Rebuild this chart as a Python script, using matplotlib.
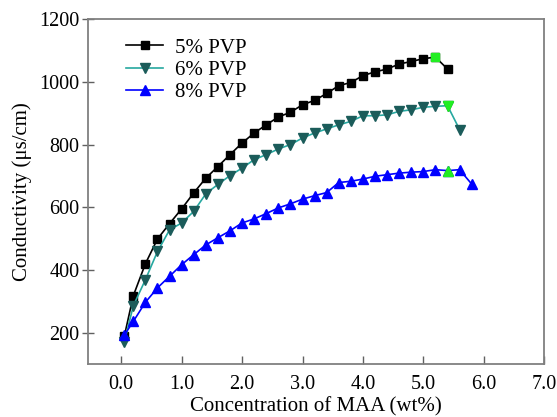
import matplotlib
matplotlib.use("Agg")
import matplotlib.pyplot as plt
import numpy as np

plt.rcParams['font.family'] = ['Liberation Serif', 'DejaVu Serif']

# data
x5 = [0.05, 0.2, 0.4, 0.6, 0.8, 1.0, 1.2, 1.4, 1.6, 1.8, 2.0, 2.2, 2.4, 2.6,
      2.8, 3.0, 3.2, 3.4, 3.6, 3.8, 4.0, 4.2, 4.4, 4.6, 4.8, 5.0, 5.2, 5.4]
y5 = [188, 318, 420, 499, 548, 595, 646, 693, 730, 768, 805, 837, 863, 888,
      903, 927, 941, 963, 988, 998, 1020, 1032, 1041, 1057, 1065, 1074, 1079, 1041]
peak5 = 26

x6 = x5 + [5.6]
y6 = [170, 286, 369, 459, 528, 550, 587, 643, 673, 701, 725, 752, 768, 786,
      800, 821, 837, 850, 863, 874, 892, 892, 895, 906, 911, 919, 922, 924, 848]
peak6 = 27

x8 = x5 + [5.6, 5.8]
y8 = [192, 236, 297, 343, 380, 417, 449, 480, 503, 525, 550, 563, 580, 598,
      611, 626, 637, 647, 679, 683, 690, 699, 704, 709, 712, 714, 720, 717, 720, 674]
peak8 = 27

labels = ['5% PVP', '6% PVP', '8% PVP']
xticks = [0.0, 1.0, 2.0, 3.0, 4.0, 5.0, 6.0, 7.0]
yticks = [200, 400, 600, 800, 1000, 1200]

fig = plt.figure(figsize=(5.57, 4.17), dpi=100)
ax = fig.add_axes([0.158, 0.127, 0.819, 0.827])

ax.plot(x5, y5, color='black', lw=1.2, marker='s', ms=5.3,
        mfc='black', mec='black', label=labels[0])
ax.plot(x6, y6, color='#26a8a0', lw=1.2, marker='v', ms=7,
        mfc='#1b5c5a', mec='#1b5c5a', label=labels[1])
ax.plot(x8, y8, color='#0000ff', lw=1.2, marker='^', ms=7,
        mfc='#0000ff', mec='#0000ff', label=labels[2])

# highlighted maxima
ax.plot(x5[peak5], y5[peak5], ls='none', marker='s', ms=5.3, color='#22ee22')
ax.plot(x6[peak6], y6[peak6], ls='none', marker='v', ms=7, color='#22ee22')
ax.plot(x8[peak8], y8[peak8], ls='none', marker='^', ms=7, color='#22ee22')

ax.set_xlim(-0.55, 7.0)
ax.set_ylim(100, 1200)
ax.set_xticks(xticks)
ax.set_xticklabels(['%.1f' % t for t in xticks])
ax.set_yticks(yticks)

for s in ax.spines.values():
    s.set_color('#808080')
    s.set_linewidth(1.3)

ax.tick_params(axis='x', direction='in', length=6, width=1, color='#606060',
               labelsize=14.5, top=False, pad=8)
ax.tick_params(axis='y', direction='inout', length=8, width=1, color='#606060',
               labelsize=14.5, right=False, pad=2)

ax.set_xlabel('Concentration of MAA (wt%)', fontsize=15, labelpad=2)
ax.set_ylabel('Conductivity (\u03bcs/cm)', fontsize=15, labelpad=5)

ax.legend(loc='upper left', bbox_to_anchor=(0.083, 0.945), frameon=False,
          fontsize=15, borderpad=0, borderaxespad=0, labelspacing=0.12,
          handlelength=1.8, handletextpad=0.55)

fig.savefig('out.png', dpi=100)
